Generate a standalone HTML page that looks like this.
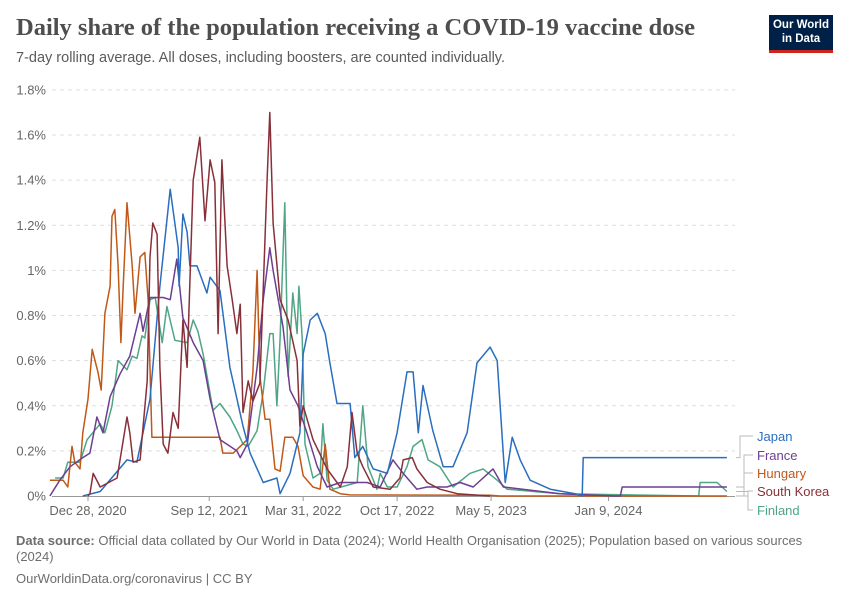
<!DOCTYPE html>
<html><head><meta charset="utf-8">
<style>
body{margin:0;background:#fff;width:850px;height:600px;overflow:hidden;font-family:"Liberation Sans",sans-serif;}
#title{position:absolute;left:16px;top:14px;font-family:"Liberation Serif",serif;font-weight:bold;font-size:24.5px;color:#4e4e4e;margin:0;}
#sub{position:absolute;left:16px;top:50px;font-size:14.5px;color:#5b5b5b;}
#logo{position:absolute;left:769px;top:15px;width:64px;height:38px;background:#002147;border-bottom:3px solid #ce261e;color:#fff;font-size:11.5px;font-weight:bold;text-align:center;line-height:14px;padding-top:3px;box-sizing:border-box;}
#src{position:absolute;left:16px;top:533px;width:790px;font-size:13px;color:#6e6e6e;line-height:16px;}
#foot{position:absolute;left:16px;top:571px;font-size:13px;color:#6e6e6e;}
svg{position:absolute;left:0;top:0;}
</style></head><body>
<div id="title">Daily share of the population receiving a COVID-19 vaccine dose</div>
<div id="sub">7-day rolling average. All doses, including boosters, are counted individually.</div>
<div id="logo">Our World<br>in Data</div>
<svg id="chart" width="850" height="600"></svg>
<div id="src"><b>Data source:</b> Official data collated by Our World in Data (2024); World Health Organisation (2025); Population based on various sources (2024)</div>
<div id="foot">OurWorldinData.org/coronavirus | CC BY</div>
<script>
// days since Dec 28, 2020 ; values in %
const yTicks=[0,0.2,0.4,0.6,0.8,1,1.2,1.4,1.6,1.8];
const yTickLabels=["0%","0.2%","0.4%","0.6%","0.8%","1%","1.2%","1.4%","1.6%","1.8%"];
const xTicks=[0,258,458,658,858,1108];
const xTickLabels=["Dec 28, 2020","Sep 12, 2021","Mar 31, 2022","Oct 17, 2022","May 5, 2023","Jan 9, 2024"];
const seriesNames=["Japan","France","Hungary","South Korea","Finland"];
const japanDays=[-11,26,83,104,132,153,175,192,194,202,211,217,232,253,260,281,302,330,345,373,402,409,430,451,458,473,488,505,515,530,558,568,585,607,637,658,679,692,703,713,734,756,777,807,828,856,871,881,888,903,920,941,984,1037,1052,1054,1360];
const japanVals=[0,0.02,0.16,0.15,0.43,0.93,1.36,1.1,0.93,1.25,1.17,1.02,1.02,0.9,0.97,0.91,0.57,0.31,0.19,0.06,0.08,0.01,0.10,0.28,0.63,0.78,0.81,0.72,0.59,0.41,0.41,0.17,0.22,0.12,0.10,0.28,0.55,0.55,0.28,0.49,0.29,0.13,0.13,0.28,0.59,0.66,0.6,0.28,0.06,0.26,0.16,0.07,0.03,0.01,0,0.17,0.17];
const franceDays=[-81,-60,-38,-11,4,19,32,47,68,89,111,117,132,160,175,189,202,224,245,260,281,317,324,339,360,373,387,394,415,430,447,466,488,509,537,594,622,649,671,700,722,764,792,820,862,884,1005,1122,1133,1137,1360];
const franceVals=[0,0.07,0.13,0.17,0.19,0.35,0.28,0.44,0.54,0.62,0.81,0.73,0.88,0.88,0.87,1.05,0.79,0.68,0.6,0.43,0.25,0.2,0.17,0.23,0.57,0.87,1.1,1.0,0.75,0.47,0.4,0.28,0.13,0.04,0.06,0.06,0.04,0.16,0.1,0.03,0.04,0.04,0.06,0.04,0.12,0.04,0.01,0,0,0.04,0.04];
const hungaryDays=[-81,-53,-43,-34,-28,-17,-11,0,9,15,21,28,36,47,51,57,64,70,75,83,94,100,111,121,128,136,281,287,309,324,339,351,360,366,377,387,398,409,419,436,447,458,479,494,505,515,537,558,856,877,1360];
const hungaryVals=[0.07,0.07,0.04,0.22,0.15,0.12,0.28,0.43,0.65,0.6,0.55,0.47,0.81,0.93,1.24,1.27,1.02,0.68,0.93,1.3,1.02,0.81,1.06,1.08,0.87,0.26,0.26,0.19,0.19,0.22,0.25,0.55,1.0,0.53,0.34,0.34,0.12,0.11,0.26,0.26,0.22,0.09,0.04,0.03,0.23,0.03,0.01,0.005,0.003,0,0];
const koreaDays=[0,4,11,26,62,83,89,96,111,126,132,138,147,153,160,170,181,192,202,211,224,238,249,260,270,277,285,296,307,317,324,330,341,351,366,381,387,394,409,426,445,451,458,479,509,537,552,562,573,585,607,643,664,671,690,700,722,749,786,856];
const koreaVals=[0,0.01,0.1,0.04,0.08,0.35,0.28,0.15,0.16,0.51,1.06,1.21,1.16,0.57,0.23,0.19,0.37,0.3,0.78,0.57,1.4,1.59,1.22,1.49,1.39,0.72,1.49,1.02,0.87,0.72,0.85,0.37,0.51,0.42,0.5,1.39,1.7,1.21,0.87,0.78,0.6,0.31,0.4,0.25,0.12,0.04,0.13,0.37,0.19,0.13,0.04,0.03,0.08,0.16,0.17,0.12,0.06,0.03,0.01,0];
const finlandDays=[-70,-53,-43,-17,-2,26,36,51,64,83,94,104,115,121,132,143,158,168,185,211,224,234,245,266,281,302,317,330,341,360,373,387,394,402,409,419,426,436,445,449,456,462,479,494,500,509,522,573,585,596,615,622,637,658,679,692,711,724,749,777,813,841,871,892,1005,1300,1303,1339,1360];
const finlandVals=[0.08,0.08,0.15,0.15,0.25,0.32,0.28,0.4,0.6,0.56,0.62,0.61,0.71,0.7,0.87,0.88,0.68,0.84,0.69,0.68,0.78,0.73,0.63,0.38,0.41,0.35,0.29,0.23,0.22,0.29,0.46,0.72,0.72,0.4,0.7,1.3,0.53,0.9,0.72,0.93,0.7,0.23,0.08,0.1,0.32,0.07,0.03,0.06,0.4,0.13,0.03,0.1,0.04,0.04,0.13,0.22,0.25,0.16,0.13,0.04,0.1,0.12,0.07,0.03,0.01,0,0.06,0.06,0.02];

const svg=document.getElementById('chart');
const NS='http://www.w3.org/2000/svg';
const X0=88, PXD=0.4698, Y0=496, PXV=225.6;
const xs=d=>X0+d*PXD;
const ys=v=>Y0-v*PXV;
function mk(tag,attrs){const e=document.createElementNS(NS,tag);for(const k in attrs)e.setAttribute(k,attrs[k]);svg.appendChild(e);return e;}
yTicks.forEach((t,i)=>{
  if(t>0){const g=mk('line',{x1:52,x2:735,y1:ys(t),y2:ys(t),stroke:'#ddd','stroke-dasharray':'4,4'});
  
  }
  const l=mk('text',{x:46,y:ys(t)+4.5,'text-anchor':'end','font-size':13,fill:'#666','font-family':'Liberation Sans, sans-serif'});
  l.textContent=yTickLabels[i];
  
  
});
const ax=mk('line',{x1:52,x2:735,y1:Y0+0.5,y2:Y0+0.5,stroke:'#999'});


xTicks.forEach((t,i)=>{
  const tk=mk('line',{x1:xs(t),x2:xs(t),y1:Y0,y2:Y0+5,stroke:'#999'});
  
  
  const l=mk('text',{x:xs(t),y:Y0+19,'text-anchor':i==xTicks.length-1?'middle':'middle','font-size':13,fill:'#666','font-family':'Liberation Sans, sans-serif'});
  l.textContent=xTickLabels[i];
  
  
});
const colors=['#2a6ebf','#6d3e91','#c05917','#883039','#4fa585'];
const data=[[japanDays,japanVals],[franceDays,franceVals],[hungaryDays,hungaryVals],[koreaDays,koreaVals],[finlandDays,finlandVals]];
const order=[4,2,1,0,3];
order.forEach(i=>{
  const [d,v]=data[i];
  const p=d.map((dd,j)=>(j?'L':'M')+xs(dd).toFixed(1)+','+ys(v[j]).toFixed(1)).join('');
  const path=mk('path',{d:p,fill:'none',stroke:colors[i],'stroke-width':1.5,'stroke-linejoin':'round'});
  
  
});
const labelY=[436,455,473,491,510];
const vx=[740,744,744,748,748];
seriesNames.forEach((n,i)=>{
  const d=data[i][0], v=data[i][1];
  const ey=ys(v[v.length-1]);
  const c=mk('path',{d:`M736,${ey}H${vx[i]}V${labelY[i]}H753`,fill:'none',stroke:'#bbb','stroke-width':1});
  
  
  const t=mk('text',{x:757,y:labelY[i]+5,'font-size':13,fill:colors[i],'font-family':'Liberation Sans, sans-serif'});
  t.textContent=n;
  
  
});
</script>
</body></html>
